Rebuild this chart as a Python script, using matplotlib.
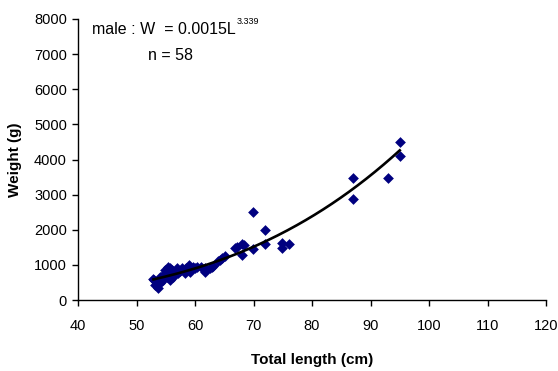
import numpy as np
import matplotlib
matplotlib.use("Agg")
import matplotlib.pyplot as plt

plt.rcParams['font.family'] = ['Liberation Sans', 'DejaVu Sans']

length_cm = [52.9, 53.2, 53.7, 53.5, 54.0, 54.0, 54.6, 54.6, 54.9, 55.4,
             55.0, 55.7, 56.0, 56.0, 56.5, 56.9, 57.1, 57.7, 58.3, 58.0,
             58.9, 59.1, 59.7, 60.3, 60.0, 53.0, 55.2, 57.5, 56.2, 58.5,
             61.0, 55.8,
             61.7, 61.7, 62.6, 62.9, 63.1, 64.0, 64.3, 64.7, 65.1,
             66.8, 67.1, 68.0, 68.0, 68.3, 69.9, 69.9,
             72.0, 72.0, 74.8, 74.8, 76.0,
             87.0, 87.0, 93.0, 95.0, 95.0]
weight_g = [600, 430, 340, 520, 480, 650, 570, 720, 860, 950,
            780, 580, 720, 850, 800, 900, 770, 900, 770, 850,
            1000, 800, 950, 950, 900, 560, 650, 820, 650, 900,
            950, 900,
            900, 810, 900, 950, 980, 1100, 1150, 1190, 1240,
            1476, 1520, 1600, 1290, 1570, 2494, 1448,
            1981, 1590, 1619, 1476, 1600,
            3477, 2877, 3477, 4506, 4094]

x_ticks = [40, 50, 60, 70, 80, 90, 100, 110, 120]
y_ticks = [0, 1000, 2000, 3000, 4000, 5000, 6000, 7000, 8000]

x = np.array(length_cm)
y = np.array(weight_g)
b, lna = np.polyfit(np.log(x), np.log(y), 1)
xs = np.linspace(x.min(), x.max(), 200)
ys = np.exp(lna) * xs ** b

fig = plt.figure(figsize=(5.58, 3.71), dpi=100)
ax = fig.add_axes([78/558, 1-300/371, (546-78)/558, (300-19)/371])
ax.scatter(x, y, marker='D', s=30, color='#000080', linewidths=0, zorder=2)
ax.plot(xs, ys, color='black', lw=1.9, zorder=3)

ax.set_xlim(40, 120)
ax.set_ylim(0, 8000)
ax.set_xticks(x_ticks)
ax.set_yticks(y_ticks)
ax.tick_params(labelsize=10.5, length=4, width=1, direction='out', color='black')
ax.tick_params(axis='x', pad=10)
ax.tick_params(axis='y', pad=4)
for s in ['top', 'right']:
    ax.spines[s].set_visible(False)
for s in ['left', 'bottom']:
    ax.spines[s].set_linewidth(1)
ax.set_xlabel('Total length (cm)', fontsize=11, fontweight='bold', labelpad=14)
ax.set_ylabel('Weight (g)', fontsize=11, fontweight='bold', labelpad=9)

ax.text(92/558, 1-30/371, 'male : W  = 0.0015L', transform=fig.transFigure,
        fontsize=11.5, va='center', ha='left')
ax.text(237/558, 1-22/371, '3.339', transform=fig.transFigure,
        fontsize=6.5, va='center', ha='left')
ax.text(148/558, 1-55/371, 'n = 58', transform=fig.transFigure,
        fontsize=11.5, va='center', ha='left')

fig.savefig('out.png', dpi=100)
